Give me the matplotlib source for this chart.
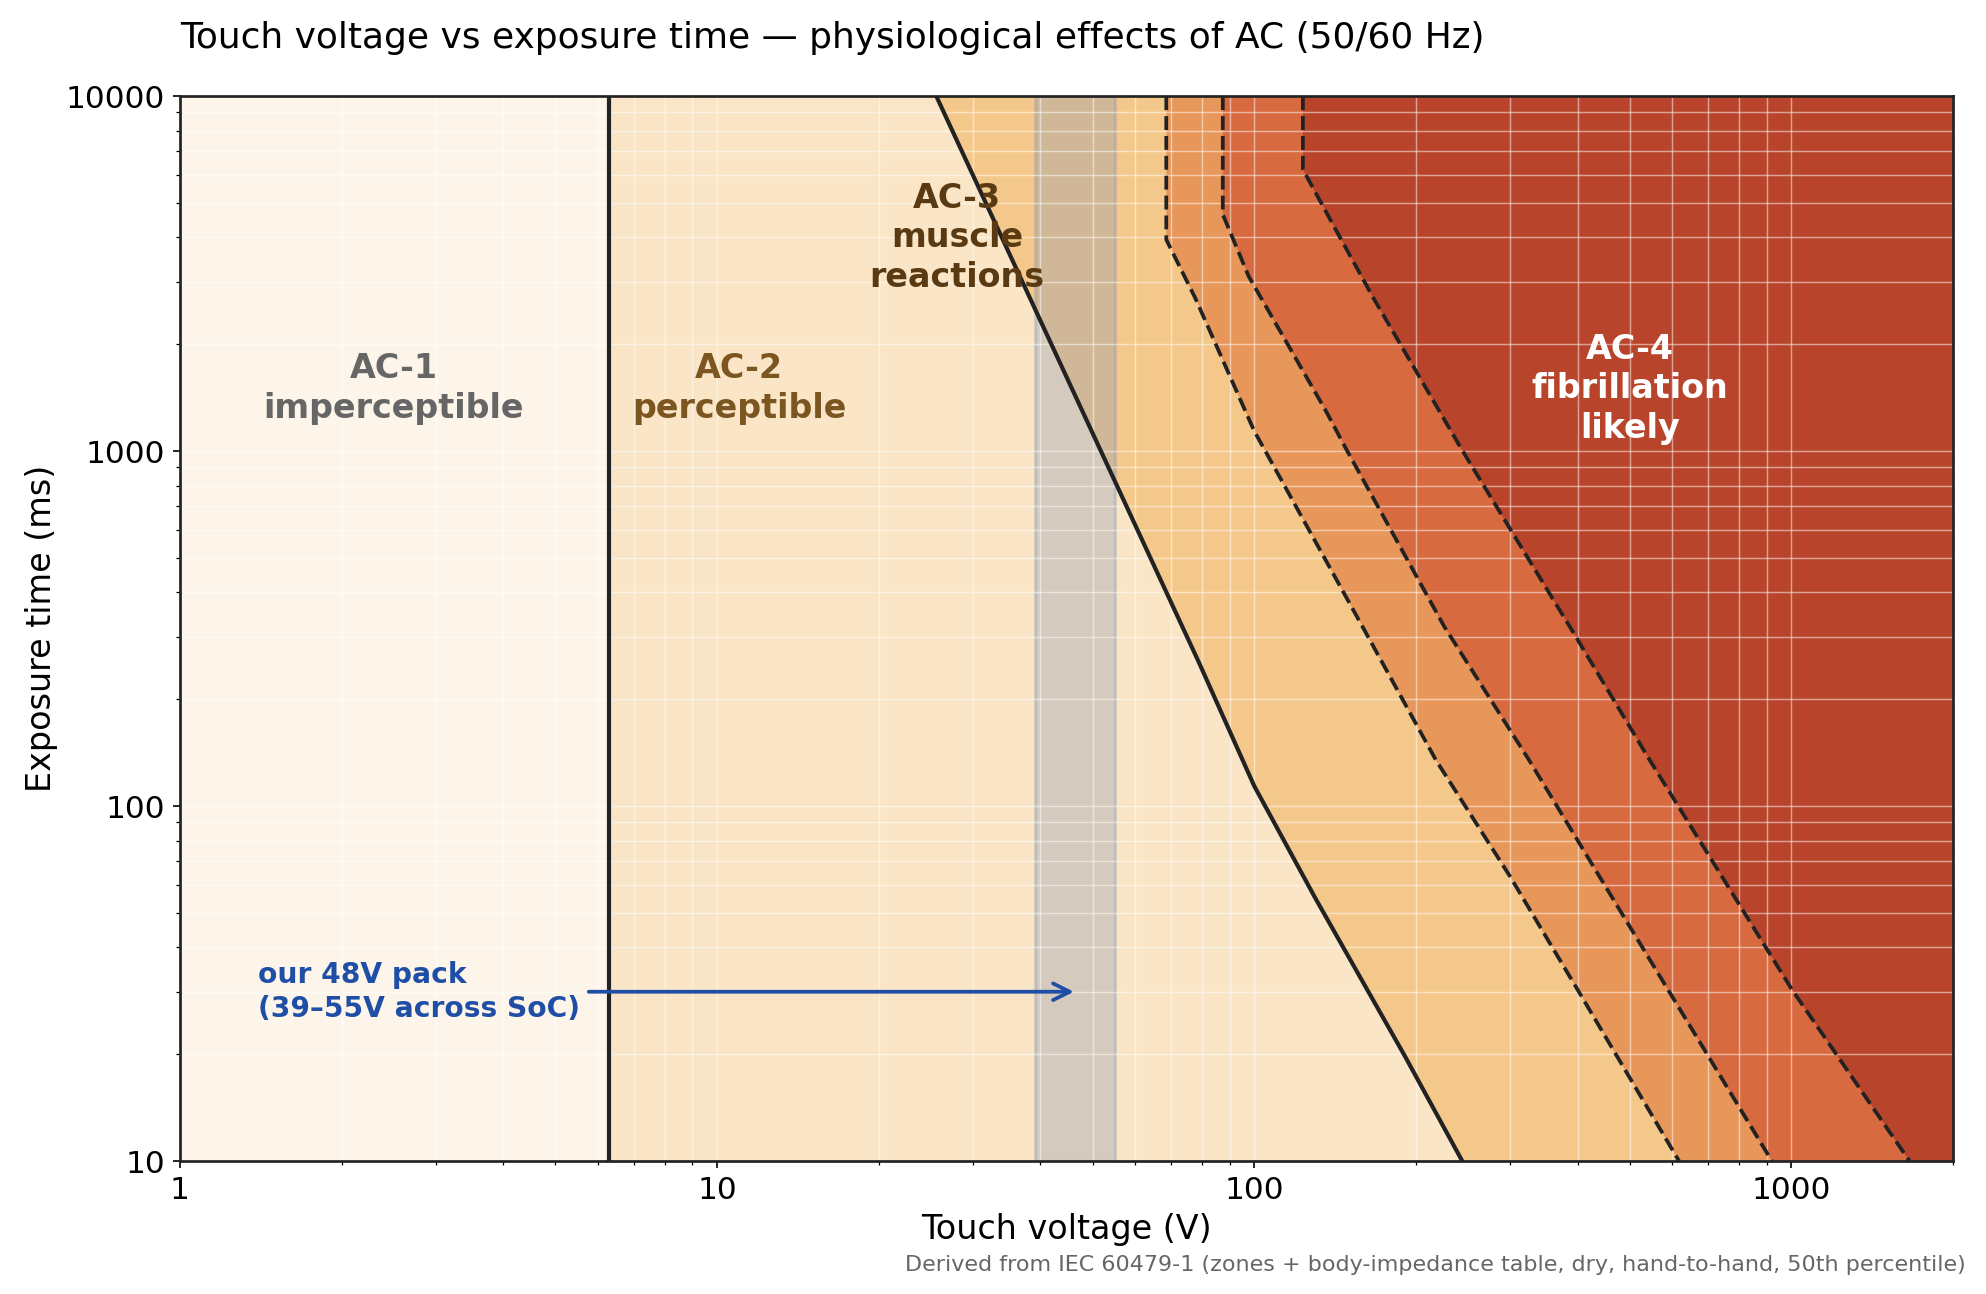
import matplotlib
matplotlib.use('Agg')
import matplotlib.pyplot as plt
from matplotlib.ticker import FuncFormatter, NullFormatter

# zone boundaries: (touch voltage V, exposure time ms)
ac1_limit_v = 6.3
curve_b_v = [25.6, 78.9, 100, 130, 191, 244]
curve_b_t = [10000, 254, 114, 55, 19.7, 10]
curve_c1_v = [68.6, 68.6, 77.7, 100, 161, 218, 299, 400, 618]
curve_c1_t = [10000, 3945, 2697, 1140, 310, 134.7, 63.6, 30.4, 10]
curve_c2_v = [87.4, 87.4, 97.7, 135.8, 148.8, 226, 325, 495, 920]
curve_c2_t = [10000, 4645, 3105, 1303, 1005, 320, 134.7, 47, 10]
curve_c3_v = [123.2, 123.2, 141.8, 166.8, 244, 394, 543, 1003, 1660]
curve_c3_t = [10000, 6223, 4212, 2697, 1005, 306, 136, 30.4, 10]

pack_range = [39, 55]
pack_arrow = (47, 30)

zone_colors = ['#fdf5ea', '#fae6c7', '#f4c88a', '#e8975a', '#d86a40', '#b8452b']

xmin, xmax = 1, 2000
ymin, ymax = 10, 10000

fig = plt.figure(figsize=(13.24, 8.627), dpi=150)
ax = fig.add_axes([0.0906, 0.1027, 0.8928, 0.8229])
ax.set_xscale('log')
ax.set_yscale('log')
ax.set_xlim(xmin, xmax)
ax.set_ylim(ymin, ymax)

ax.axvspan(xmin, ac1_limit_v, color=zone_colors[0], lw=0)
ax.axvspan(ac1_limit_v, xmax, color=zone_colors[1], lw=0)
for cv, ct, col in [(curve_b_v, curve_b_t, zone_colors[2]),
                    (curve_c1_v, curve_c1_t, zone_colors[3]),
                    (curve_c2_v, curve_c2_t, zone_colors[4]),
                    (curve_c3_v, curve_c3_t, zone_colors[5])]:
    ax.fill(cv + [xmax, xmax], ct + [ymin, ymax], color=col, lw=0)

# battery pack band
ax.axvspan(pack_range[0], pack_range[1], facecolor='#8f98b0', alpha=0.35,
           edgecolor='#8f98b0', lw=1.5, zorder=1.2)

ax.grid(True, which='both', color='white', alpha=0.5, lw=0.7)

ax.axvline(ac1_limit_v, color='#222222', lw=2, zorder=3)
ax.plot(curve_b_v, curve_b_t, color='#222222', lw=2, zorder=3)
for cv, ct in [(curve_c1_v, curve_c1_t), (curve_c2_v, curve_c2_t), (curve_c3_v, curve_c3_t)]:
    ax.plot(cv, ct, color='#222222', lw=1.8, ls='--', zorder=3)

fmt = FuncFormatter(lambda v, p: '%d' % v)
ax.xaxis.set_major_formatter(fmt)
ax.yaxis.set_major_formatter(fmt)
ax.xaxis.set_minor_formatter(NullFormatter())
ax.yaxis.set_minor_formatter(NullFormatter())
ax.tick_params(labelsize=15)
for s in ax.spines.values():
    s.set_color('#222222')
    s.set_linewidth(1.3)

ax.set_xlabel('Touch voltage (V)', fontsize=16, labelpad=4)
ax.set_ylabel('Exposure time (ms)', fontsize=16)
ax.set_title('Touch voltage vs exposure time \u2014 physiological effects of AC (50/60 Hz)',
             loc='left', fontsize=17.3, pad=23)

lab = dict(ha='center', va='center', fontsize=16, fontweight='bold', linespacing=1.25)
ax.text(2.5, 1500, 'AC-1\nimperceptible', color='#666666', **lab)
ax.text(11, 1500, 'AC-2\nperceptible', color='#7b5620', **lab)
ax.text(28, 4000, 'AC-3\nmuscle\nreactions', color='#5a3a12', **lab)
ax.text(500, 1500, 'AC-4\nfibrillation\nlikely', color='white', **lab)

ax.annotate('our 48V pack\n(39\u201355V across SoC)', xy=pack_arrow, xytext=(1.4, 30),
            ha='left', va='center', fontsize=13.5, fontweight='bold', color='#1f4ea6',
            linespacing=1.25,
            arrowprops=dict(arrowstyle='->', color='#1f4ea6', lw=1.8, mutation_scale=20),
            zorder=5)

fig.text(0.99, 0.015, 'Derived from IEC 60479-1 (zones + body-impedance table, dry, hand-to-hand, 50th percentile)',
         ha='right', va='bottom', fontsize=10.7, color='#666666')

fig.savefig('out.png', dpi=150)
